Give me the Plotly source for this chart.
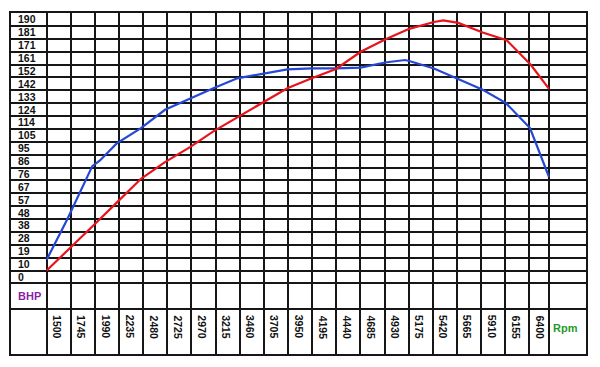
import plotly.graph_objects as go

# ---- tick labels (table headings) ----
rpm_labels = [1500, 1745, 1990, 2235, 2480, 2725, 2970, 3215, 3460, 3705,
              3950, 4195, 4440, 4685, 4930, 5175, 5420, 5665, 5910, 6155, 6400]
bhp_labels = [190, 181, 171, 161, 152, 142, 133, 124, 114, 105, 95,
              86, 76, 67, 57, 48, 38, 28, 19, 10, 0]

# ---- series ----
blue_rpm = [1500, 1709, 1963, 2041, 2211, 2457, 2701, 2955, 3192, 3435, 3689,
            3943, 4191, 4437, 4688, 4935, 5138, 5181, 5432, 5679, 5927, 6163,
            6407, 6600]
blue_val = [8.0, 37.9, 77.0, 81.2, 93.8, 105.1, 118.6, 127.1, 134.5, 141.8, 145.0,
            148.4, 149.1, 149.1, 149.7, 153.5, 155.3, 154.6, 149.1, 141.1, 133.3,
            123.5, 105.1, 69.0]

red_rpm = [1500, 1709, 1963, 2211, 2457, 2701, 2955, 3192, 3435, 3689, 3943,
           4191, 4437, 4688, 4930, 5181, 5432, 5527, 5679, 5927, 6170, 6417, 6600]
red_val = [0.0, 15.0, 32.5, 50.1, 67.7, 80.0, 91.0, 102.7, 113.0, 123.5, 134.5,
           141.8, 148.7, 161.4, 170.2, 178.3, 183.4, 184.6, 182.7, 175.6, 170.0,
           151.6, 134.0]

rpm_step = rpm_labels[1] - rpm_labels[0]
bhp_step = bhp_labels[0] / (len(bhp_labels) - 1)

# table lines
x_lines = rpm_labels + [6600]
y_lines = [bhp_labels[0] - bhp_step * i for i in range(len(bhp_labels) + 1)] + [-28.6]

BLUE = "#2547d6"
RED = "#e8141c"
GRID = "#161616"
FONT = "Liberation Sans, Arial, sans-serif"

fig = go.Figure()
fig.add_trace(go.Scatter(x=blue_rpm, y=blue_val, mode="lines",
                         line=dict(color=BLUE, width=2.2), name="Torque"))
fig.add_trace(go.Scatter(x=red_rpm, y=red_val, mode="lines",
                         line=dict(color=RED, width=2.2), name="BHP"))

ann = []
for i, lab in enumerate(bhp_labels):
    ann.append(dict(x=1188, y=bhp_labels[0] - bhp_step * i - bhp_step / 2,
                    xref="x", yref="y", text="<b>%d</b>" % lab, showarrow=False,
                    xanchor="left", yanchor="middle",
                    font=dict(family=FONT, size=10.5, color="#111")))
for r in rpm_labels:
    ann.append(dict(x=r + 0.43 * rpm_step, y=-41.8, xref="x", yref="y",
                    text="<b>%d</b>" % r, showarrow=False, textangle=90,
                    xanchor="center", yanchor="middle",
                    font=dict(family=FONT, size=10.5, color="#111")))
ann.append(dict(x=1188, y=-19.1, xref="x", yref="y", text="<b>BHP</b>",
                showarrow=False, xanchor="left", yanchor="middle",
                font=dict(family=FONT, size=11, color="#8a1fa6")))
ann.append(dict(x=6772, y=-42.5, xref="x", yref="y", text="<b>Rpm</b>",
                showarrow=False, xanchor="center", yanchor="middle",
                font=dict(family=FONT, size=11, color="#1f9a2c")))

# page body has an 8px default margin; size the figure to fit the window
fig.update_layout(
    width=584, height=351,
    margin=dict(l=3, r=6, t=3, b=5),
    paper_bgcolor="white", plot_bgcolor="white",
    showlegend=False,
    annotations=ann,
    xaxis=dict(range=[1137.5, 6975.5], showgrid=False, zeroline=False,
               showticklabels=False, ticks="", showline=True, mirror=True,
               linecolor=GRID, linewidth=2,
               minor=dict(tickmode="array", tickvals=x_lines, showgrid=True,
                          gridcolor=GRID, gridwidth=1.6, ticks="")),
    yaxis=dict(range=[-61.6, 190], showgrid=False, zeroline=False,
               showticklabels=False, ticks="", showline=True, mirror=True,
               linecolor=GRID, linewidth=2,
               minor=dict(tickmode="array", tickvals=y_lines, showgrid=True,
                          gridcolor=GRID, gridwidth=1.6, ticks="")),
)

fig.write_html("out.html")
